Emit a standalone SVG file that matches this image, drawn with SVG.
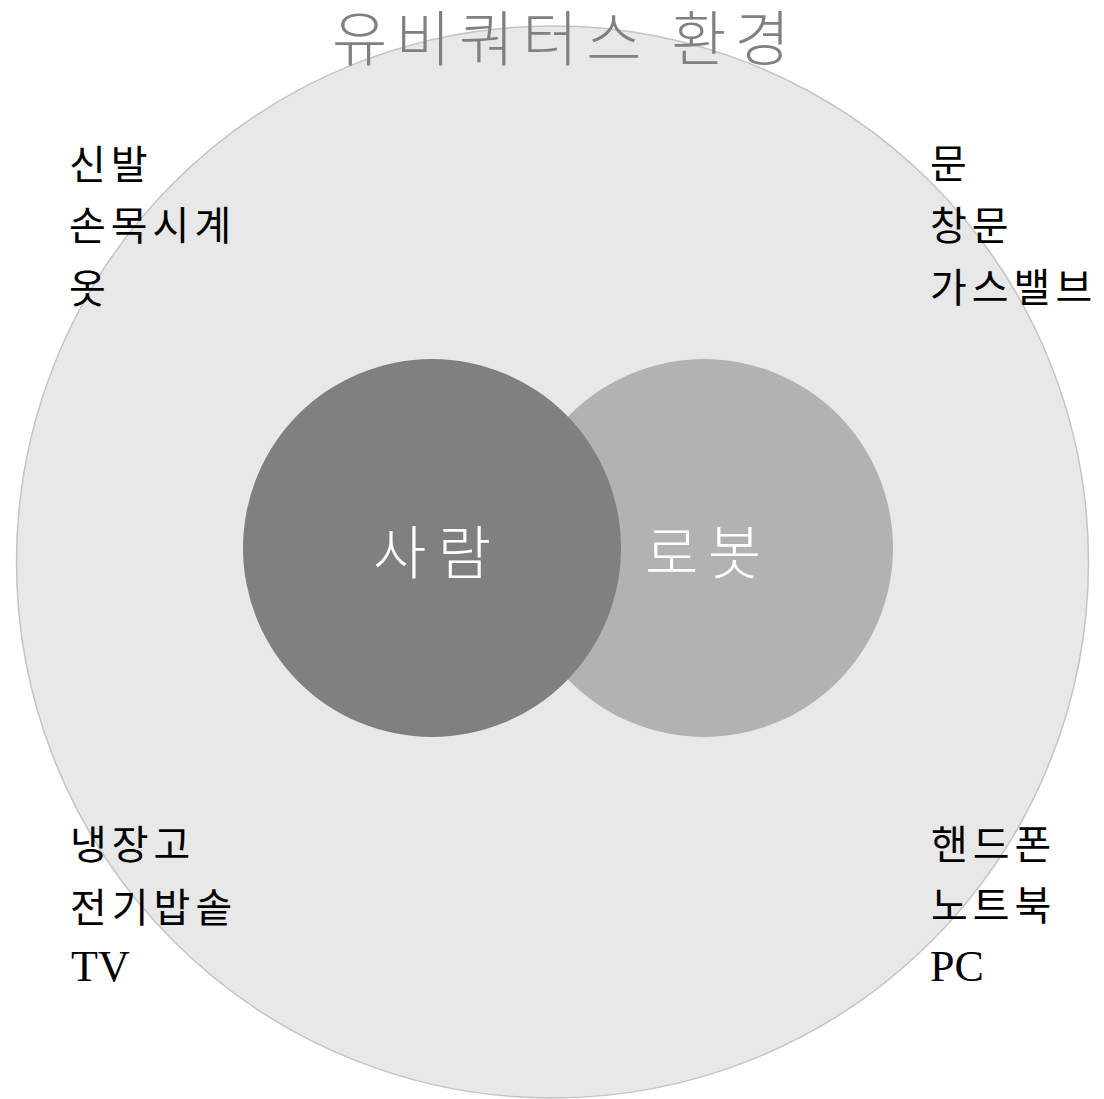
<svg xmlns="http://www.w3.org/2000/svg" width="1104" height="1099" viewBox="0 0 1104 1099">
<style>
.item{font-family:"Noto Sans CJK KR","Liberation Serif",serif;font-size:40px;letter-spacing:5px;fill:#000}
.latin{font-family:"Liberation Serif","Noto Sans CJK KR",serif;font-size:44px;fill:#000}
.center{font-family:"Noto Sans CJK KR",sans-serif;font-weight:300;font-size:58px;fill:#fff;text-anchor:middle}
.title{font-family:"Noto Sans CJK KR",sans-serif;font-weight:300;font-size:60px;fill:#808080;text-anchor:middle}
</style>
<rect width="1104" height="1099" fill="#fff"/>
<g id="env">
<circle cx="552.5" cy="562" r="536" fill="#e8e8e8" stroke="#c4c4c4" stroke-width="1.5"/>
</g>
<g id="title"><text class="title" x="561" y="61" textLength="458" lengthAdjust="spacing">유비쿼터스 환경</text></g>
<g id="robot">
<circle cx="704" cy="548" r="189" fill="#b2b2b2"/>
<text class="center" x="703" y="574" textLength="116" lengthAdjust="spacing">로봇</text>
</g>
<g id="human">
<circle cx="432" cy="548" r="189" fill="#808080"/>
<text class="center" x="432" y="574" textLength="118" lengthAdjust="spacing">사람</text>
</g>
<g id="top-left">
<text class="item" x="69" y="179">신발</text>
<text class="item" x="69" y="240">손목시계</text>
<text class="item" x="69" y="303">옷</text>
</g>
<g id="top-right">
<text class="item" x="930" y="178">문</text>
<text class="item" x="930" y="240">창문</text>
<text class="item" x="930" y="302">가스밸브</text>
</g>
<g id="bottom-left">
<text class="item" x="70" y="859">냉장고</text>
<text class="item" x="70" y="922">전기밥솥</text>
<text class="latin" x="71" y="981">TV</text>
</g>
<g id="bottom-right">
<text class="item" x="931" y="859">핸드폰</text>
<text class="item" x="931" y="920">노트북</text>
<text class="latin" x="930" y="981">PC</text>
</g>
<g id="connectors"></g>
</svg>
